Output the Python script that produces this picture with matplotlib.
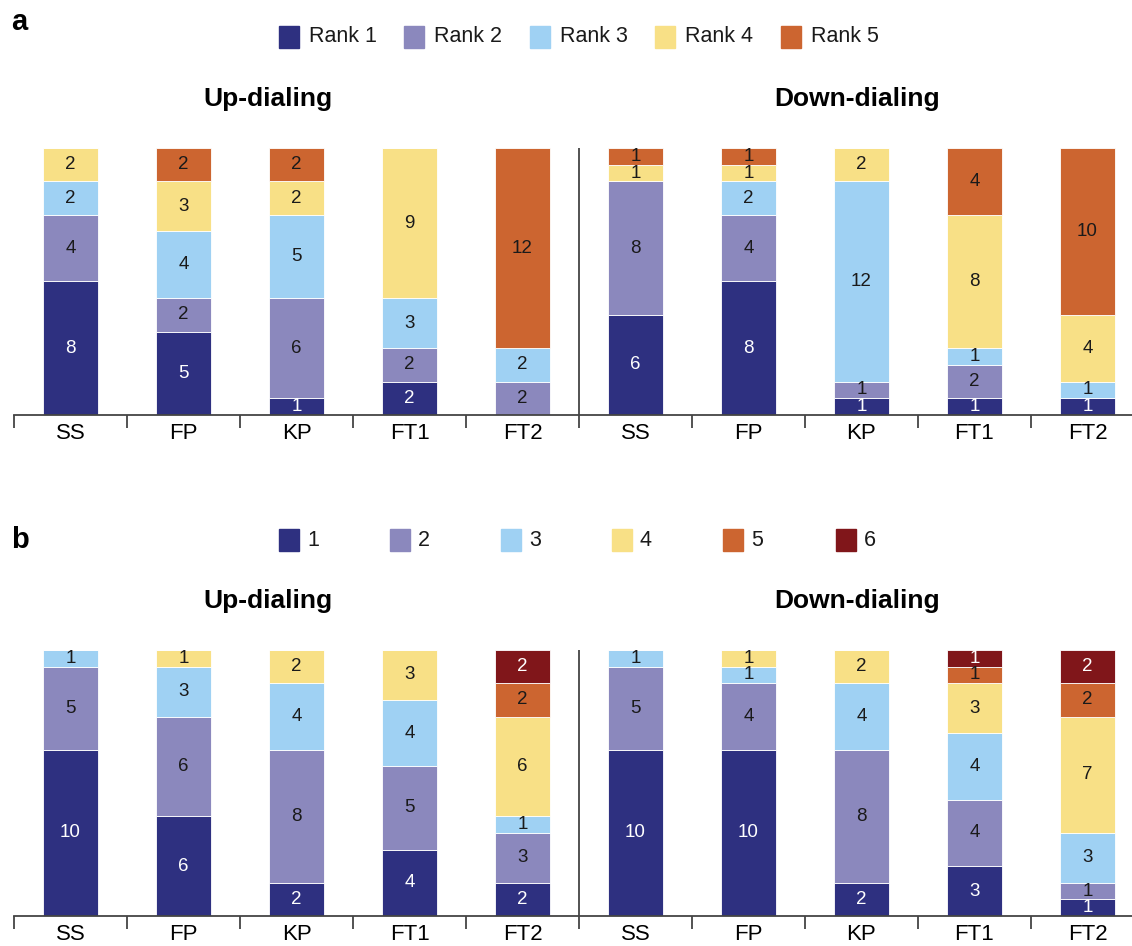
import numpy as np
import matplotlib
matplotlib.use("Agg")
import matplotlib.pyplot as plt
from matplotlib.patches import Rectangle

plt.rcParams["font.family"] = ["Liberation Sans", "DejaVu Sans"]

methods = ["SS", "FP", "KP", "FT1", "FT2"]
groups = ["Up-dialing", "Down-dialing"]

# panel a: counts of participants giving each rank (rows = rank 1..5)
rank_labels = ["Rank 1", "Rank 2", "Rank 3", "Rank 4", "Rank 5"]
up_rank = [
    [8, 5, 1, 2, 0],
    [4, 2, 6, 2, 2],
    [2, 4, 5, 3, 2],
    [2, 3, 2, 9, 0],
    [0, 2, 2, 0, 12],
]
down_rank = [
    [6, 8, 1, 1, 1],
    [8, 4, 1, 2, 0],
    [0, 2, 12, 1, 1],
    [1, 1, 2, 8, 4],
    [1, 1, 0, 4, 10],
]

# panel b: counts per score (rows = score 1..6)
score_labels = ["1", "2", "3", "4", "5", "6"]
up_score = [
    [10, 6, 2, 4, 2],
    [5, 6, 8, 5, 3],
    [1, 3, 4, 4, 1],
    [0, 1, 2, 3, 6],
    [0, 0, 0, 0, 2],
    [0, 0, 0, 0, 2],
]
down_score = [
    [10, 10, 2, 3, 1],
    [5, 4, 8, 4, 1],
    [1, 1, 4, 4, 3],
    [0, 1, 2, 3, 7],
    [0, 0, 0, 1, 2],
    [0, 0, 0, 1, 2],
]

colors = ["#2e3080", "#8b88bd", "#9fd1f3", "#f8e086", "#cc6530", "#80161a"]
light_text = {0, 5}

W, H = 1132, 946
fig = plt.figure(figsize=(W / 100, H / 100), dpi=100)
fig.patch.set_facecolor("white")

AXIS_COLOR = "#444444"


def px(x, y):
    return x / W, 1 - y / H


def stacked_panel(top_px, bottom_px, up, down):
    left = 14 / W
    width = 1130 / W
    ax = fig.add_axes([left, 1 - bottom_px / H, width, (bottom_px - top_px) / H])
    data = np.hstack([np.array(up), np.array(down)])
    x = np.arange(data.shape[1])
    base = np.zeros(data.shape[1])
    for i, row in enumerate(data):
        ax.bar(x, row, 0.48, bottom=base, color=colors[i],
               edgecolor="white", linewidth=0.6)
        for xi, v, b in zip(x, row, base):
            if v > 0:
                ax.text(xi, b + v / 2, str(int(v)), ha="center", va="center",
                        fontsize=13.5,
                        color="white" if i in light_text else "#1a1a1a")
        base += row
    ax.set_xlim(-0.5, 9.5)
    ax.set_ylim(0, 16)
    for s in ["top", "right", "left"]:
        ax.spines[s].set_visible(False)
    ax.spines["bottom"].set_color(AXIS_COLOR)
    ax.spines["bottom"].set_linewidth(1.3)
    ax.set_yticks([])
    ax.set_xticks(x)
    ax.set_xticklabels(methods * 2, fontsize=16)
    ax.tick_params(axis="x", which="major", length=0, pad=6)
    ax.set_xticks(np.arange(-0.5, 9.0, 1.0), minor=True)
    ax.tick_params(axis="x", which="minor", length=9, width=1.3,
                   color=AXIS_COLOR, direction="out")
    ax.axvline(4.5, 0, 1, color=AXIS_COLOR, lw=1.3)
    return ax


def legend_row(y, xs, labels, text_gap=10, fontsize=15.5):
    for i, (xx, lab) in enumerate(zip(xs, labels)):
        x0, y0 = px(xx, y + 11)
        fig.add_artist(Rectangle((x0, y0), 20 / W, 22 / H, color=colors[i],
                                 transform=fig.transFigure))
        fig.text(*px(xx + 20 + text_gap, y), lab, fontsize=fontsize,
                 ha="left", va="center", color="#1a1a1a")


# panel a
stacked_panel(148, 415, up_rank, down_rank)
fig.text(*px(11, 22), "a", fontsize=21, fontweight="bold", va="center")
legend_row(37, [279, 404, 530, 655, 781], rank_labels)
fig.text(*px(268, 99), groups[0], fontsize=19, fontweight="bold",
         ha="center", va="center")
fig.text(*px(857, 99), groups[1], fontsize=19, fontweight="bold",
         ha="center", va="center")

# panel b
stacked_panel(650, 916, up_score, down_score)
fig.text(*px(11, 540), "b", fontsize=21, fontweight="bold", va="center")
legend_row(540, [279, 390, 501, 612, 723, 836], score_labels, text_gap=8)
fig.text(*px(268, 601), groups[0], fontsize=19, fontweight="bold",
         ha="center", va="center")
fig.text(*px(857, 601), groups[1], fontsize=19, fontweight="bold",
         ha="center", va="center")

fig.savefig("out.png", dpi=100, facecolor="white")
